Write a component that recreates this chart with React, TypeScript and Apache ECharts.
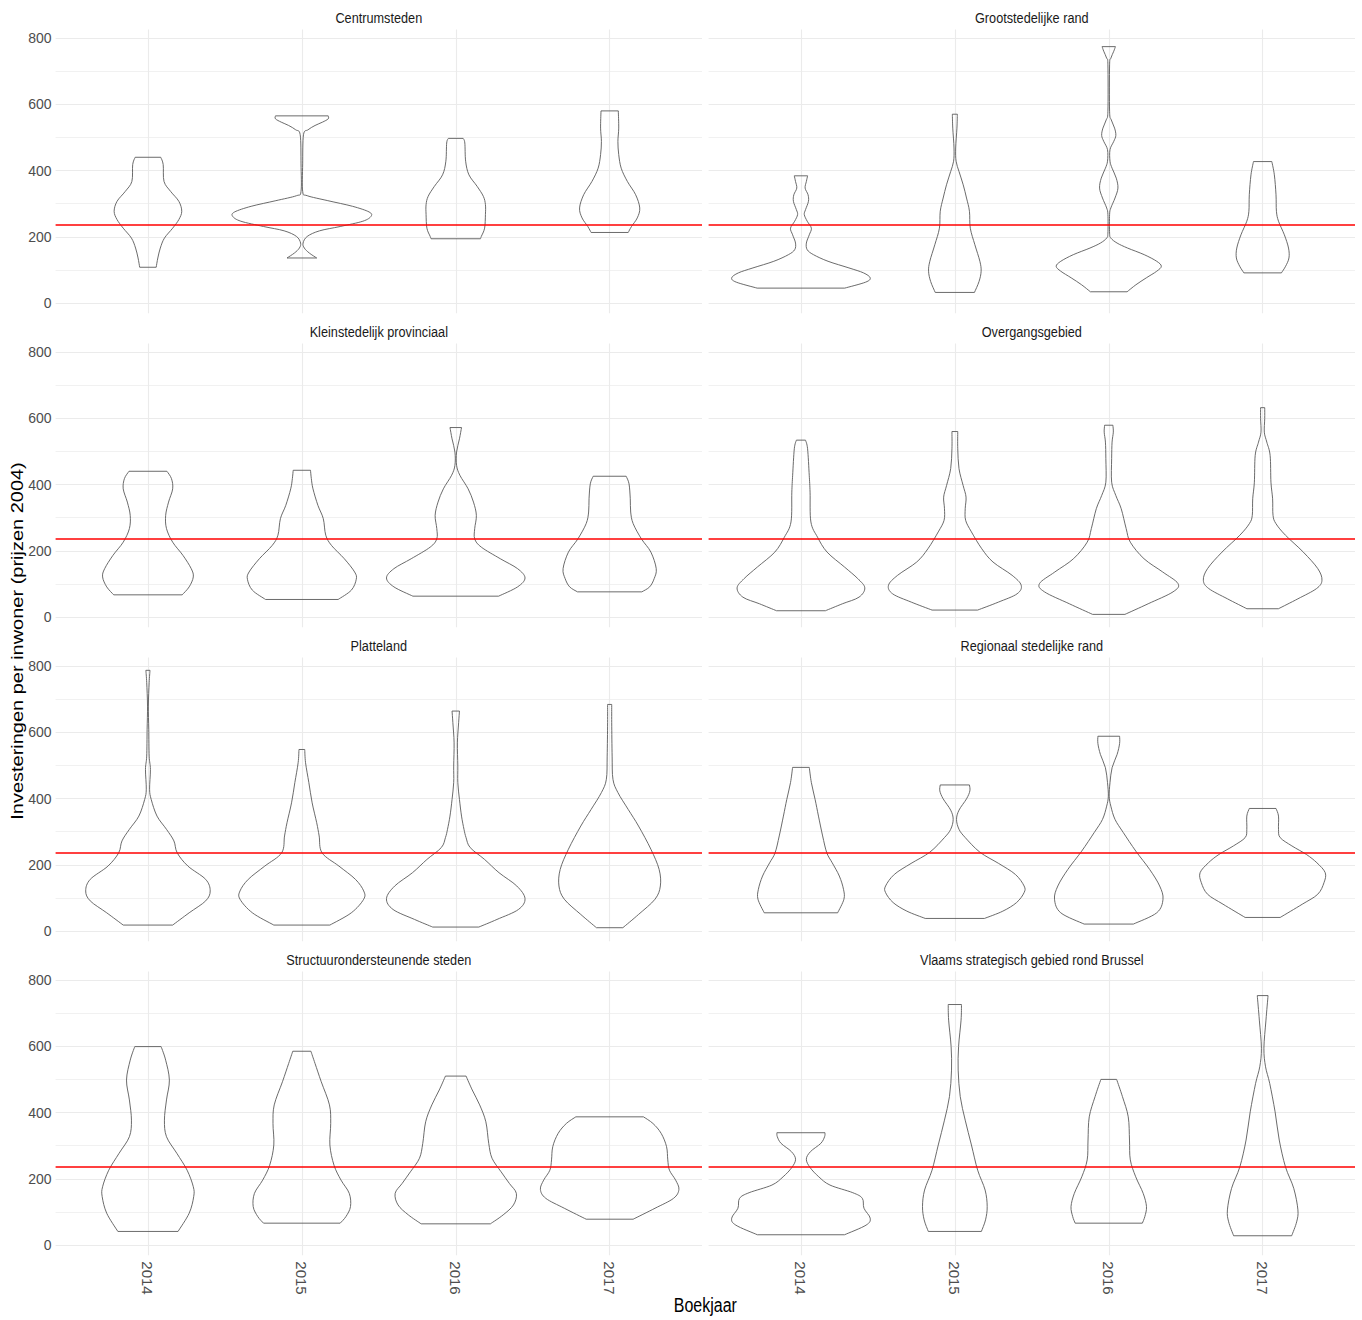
import React, { useEffect, useRef } from "react";
import * as echarts from "echarts";

// ---------- data ----------
const YEARS = ["2014", "2015", "2016", "2017"];
const REGIONS = [
  "Centrumsteden",
  "Grootstedelijke rand",
  "Kleinstedelijk provinciaal",
  "Overgangsgebied",
  "Platteland",
  "Regionaal stedelijke rand",
  "Structuurondersteunende steden",
  "Vlaams strategisch gebied rond Brussel",
];
const REFERENCE_VALUE = 236;

// violin outlines per region: one profile per year, [value, relative density] from top to bottom
const centrumsteden = [
  [[440,31],[418,37],[367,39],[337,55],[307,75],[277,82],[252,75],[226,60],[196,40],[166,30],[136,24],[108,20]],
  [[565,64],[556,64],[546,50],[536,32],[523,15],[508,4],[420,2],[337,2],[324,13],[309,63],[292,123],[275,163],[262,168],[247,148],[231,93],[218,43],[201,13],[181,3],[166,6],[151,18],[136,36]],
  [[497,18],[483,22],[428,24],[387,32],[352,52],[322,67],[297,72],[267,72],[226,70],[201,62],[194,60]],
  [[580,21],[528,22],[488,20],[448,22],[407,28],[367,43],[327,63],[287,73],[257,67],[231,53],[213,45]],
];
const grootstedelijkeRand = [
  [[384,16],[367,13],[347,10],[327,17],[307,18],[282,11],[267,8],[247,15],[226,25],[206,20],[181,13],[161,15],[146,30],[126,65],[106,115],[91,150],[76,166],[63,155],[45,105]],
  [[570,6],[528,5],[468,2],[428,3],[397,10],[357,20],[317,28],[277,35],[226,37],[176,48],[126,60],[96,63],[65,58],[32,47]],
  [[774,16],[760,12],[739,5],[719,2],[579,2],[553,6],[528,14],[506,17],[488,12],[463,3],[428,3],[407,8],[377,18],[347,22],[317,15],[287,5],[267,2],[211,2],[196,5],[181,20],[166,45],[146,85],[126,115],[111,126],[96,115],[76,90],[55,65],[34,44]],
  [[427,22],[387,28],[327,32],[277,33],[247,38],[206,52],[166,62],[136,63],[111,55],[91,45]],
];
const kleinstedelijkProvinciaal = [
  [[440,46],[418,57],[387,60],[347,50],[307,43],[267,45],[226,60],[186,85],[146,105],[121,110],[91,100],[67,83]],
  [[443,21],[418,23],[387,27],[337,39],[297,52],[247,58],[216,72],[176,103],[136,128],[114,132],[81,120],[53,88]],
  [[572,14],[538,9],[498,2],[458,2],[428,10],[387,30],[347,43],[307,50],[267,46],[236,46],[211,62],[176,108],[146,150],[118,168],[91,150],[63,104]],
  [[425,40],[402,47],[357,50],[317,51],[282,57],[236,77],[196,100],[146,113],[116,108],[91,97],[76,78]],
];
const overgangsgebied = [
  [[534,11],[508,16],[428,20],[377,22],[287,24],[241,40],[196,63],[151,105],[116,137],[88,154],[60,140],[40,100],[19,59]],
  [[560,7],[508,7],[448,10],[397,20],[362,27],[327,25],[292,26],[257,40],[206,65],[166,92],[126,138],[96,160],[70,150],[45,105],[21,55]],
  [[579,10],[558,11],[528,8],[478,7],[407,7],[367,17],[327,30],[267,42],[226,52],[176,85],[136,130],[101,167],[76,155],[40,95],[8,39]],
  [[632,5],[599,5],[558,4],[528,10],[488,18],[407,20],[357,24],[307,25],[282,32],[247,55],[196,98],[146,133],[111,143],[86,130],[55,85],[25,38]],
];
const platteland = [
  [[787,5],[750,3],[679,1],[609,2],[528,3],[488,6],[428,4],[397,8],[347,22],[307,45],[272,63],[236,71],[196,97],[156,140],[121,151],[91,140],[55,100],[18,60]],
  [[548,7],[508,9],[448,17],[387,25],[327,36],[287,42],[236,49],[196,90],[156,130],[121,150],[96,150],[55,120],[18,68]],
  [[664,9],[629,7],[568,4],[498,5],[448,5],[397,9],[347,14],[307,20],[282,25],[252,35],[216,70],[176,105],[136,148],[98,168],[65,152],[35,100],[12,56]],
  [[684,5],[629,5],[528,6],[458,8],[418,20],[367,45],[317,70],[247,100],[186,120],[136,123],[96,110],[50,70],[10,32]],
];
const regionaalStedelijkeRand = [
  [[494,20],[448,25],[397,34],[347,42],[287,52],[236,62],[206,75],[166,92],[126,102],[96,103],[55,88]],
  [[441,35],[423,36],[399,28],[365,10],[337,4],[307,10],[282,25],[238,60],[204,105],[171,145],[136,166],[116,166],[86,148],[60,115],[38,71]],
  [[588,26],[566,26],[533,20],[493,8],[448,3],[407,1],[377,5],[337,15],[297,35],[241,65],[186,98],[136,122],[96,130],[55,115],[21,59]],
  [[370,32],[347,38],[307,38],[282,42],[257,70],[231,105],[206,130],[176,150],[146,147],[111,132],[81,95],[41,42]],
];
const structuurondersteunendeSteden = [
  [[599,32],[558,43],[498,52],[438,45],[377,40],[327,45],[277,70],[226,95],[176,110],[146,111],[96,100],[41,73]],
  [[585,22],[548,32],[493,47],[423,67],[367,70],[302,68],[241,78],[196,95],[156,115],[116,118],[86,107],[66,93]],
  [[510,25],[468,40],[423,58],[372,73],[307,80],[262,88],[221,110],[186,130],[156,147],[121,140],[91,115],[64,84]],
  [[387,82],[367,105],[337,125],[297,138],[257,141],[226,145],[196,160],[168,168],[141,155],[111,110],[78,57]],
];
const vlaamsStrategischGebied = [
  [[339,58],[327,57],[307,48],[282,23],[259,13],[234,22],[206,43],[181,70],[158,125],[141,148],[111,152],[81,167],[60,157],[31,105]],
  [[726,16],[679,15],[599,9],[528,8],[448,13],[377,25],[302,40],[226,55],[166,73],[116,78],[76,74],[41,64]],
  [[500,19],[448,33],[387,47],[317,50],[257,52],[206,65],[156,83],[116,91],[86,87],[66,81]],
  [[753,13],[679,8],[594,3],[538,7],[488,17],[402,30],[317,40],[236,55],[171,75],[106,85],[70,82],[28,70]],
];

const PANELS: number[][][][] = [
  centrumsteden,
  grootstedelijkeRand,
  kleinstedelijkProvinciaal,
  overgangsgebied,
  platteland,
  regionaalStedelijkeRand,
  structuurondersteunendeSteden,
  vlaamsStrategischGebied,
];

// ---------- layout / style ----------
const W = 1362;
const H = 1320;
const SANS = "'Liberation Sans', Arial, sans-serif";
const NARROW_SCALE = 0.82;
const Y_MIN = -31;
const Y_MAX = 826;
const X_MIN = 0.4;
const X_MAX = 4.6;
const VIOLIN_WIDTH = 0.9;
const GRID_LEFT = [55.6, 708.6];
const GRID_W = 646.4;
const GRID_TOP0 = 29.4;
const ROW_STEP = 314;
const GRID_H = 283.9;
const GRID_COLOR = "#EBEBEB";

function catmull(pts: number[][]): string {
  let d = "";
  for (let i = 0; i < pts.length - 1; i++) {
    const p0 = pts[i - 1] || pts[i];
    const p1 = pts[i];
    const p2 = pts[i + 1];
    const p3 = pts[i + 2] || pts[i + 1];
    const c1x = p1[0] + (p2[0] - p0[0]) / 6;
    const c1y = p1[1] + (p2[1] - p0[1]) / 6;
    const c2x = p2[0] - (p3[0] - p1[0]) / 6;
    const c2y = p2[1] - (p3[1] - p1[1]) / 6;
    d += `C${c1x},${c1y} ${c2x},${c2y} ${p2[0]},${p2[1]} `;
  }
  return d;
}

function buildOption() {
  const grid: any[] = [];
  const xAxis: any[] = [];
  const yAxis: any[] = [];
  const series: any[] = [];
  const graphic: any[] = [];

  PANELS.forEach((profiles, i) => {
    const col = i % 2;
    const row = Math.floor(i / 2);
    const top = GRID_TOP0 + row * ROW_STEP;
    grid.push({ left: GRID_LEFT[col], top, width: GRID_W, height: GRID_H });

    xAxis.push({
      type: "value",
      gridIndex: i,
      min: X_MIN,
      max: X_MAX,
      minInterval: 1,
      maxInterval: 1,
      axisLine: { show: false },
      axisTick: { show: false },
      splitLine: { show: true, showMinLine: false, showMaxLine: false, lineStyle: { color: GRID_COLOR, width: 1.1 } },
      axisLabel: {
        show: row === 3,
        rotate: -90,
        margin: 6,
        fontFamily: SANS,
        fontSize: 15,
        color: "#4D4D4D",
        formatter: (v: number) => {
          const k = Math.round(v);
          return Math.abs(v - k) < 1e-6 && k >= 1 && k <= YEARS.length ? YEARS[k - 1] : "";
        },
      },
    });

    yAxis.push({
      type: "value",
      gridIndex: i,
      min: Y_MIN,
      max: Y_MAX,
      minInterval: 200,
      maxInterval: 200,
      axisLine: { show: false },
      axisTick: { show: false },
      minorTick: { show: false, splitNumber: 2 },
      minorSplitLine: { show: true, lineStyle: { color: GRID_COLOR, width: 0.7 } },
      splitLine: { show: true, showMinLine: false, showMaxLine: false, lineStyle: { color: GRID_COLOR, width: 1.1 } },
      axisLabel: {
        show: col === 0,
        margin: 4,
        fontFamily: SANS,
        fontSize: 14,
        color: "#4D4D4D",
        formatter: (v: number) => {
          const r = Math.round(v);
          if (Math.abs(v - r) > 1e-6 || r < 0 || r > 800 || r % 200 !== 0) return "";
          return String(Math.abs(r));
        },
      },
    });

    const panelMax = Math.max(...profiles.map((p) => Math.max(...p.map((q) => q[1]))));
    const scale = VIOLIN_WIDTH / 2 / panelMax;

    series.push({
      type: "custom",
      xAxisIndex: i,
      yAxisIndex: i,
      silent: true,
      z: 2,
      data: profiles.map((p, k) => [k + 1, p[0][0], p[p.length - 1][0]]),
      encode: { x: 0, y: [1, 2] },
      renderItem: (params: any, api: any) => {
        const prof = profiles[params.dataIndex];
        const xc = api.value(0);
        const right = prof.map((q) => api.coord([xc + q[1] * scale, q[0]]));
        const left = prof
          .slice()
          .reverse()
          .map((q) => api.coord([xc - q[1] * scale, q[0]]));
        let d = `M${right[0][0]},${right[0][1]} ` + catmull(right);
        d += `L${left[0][0]},${left[0][1]} ` + catmull(left) + "Z";
        return {
          type: "path",
          shape: { pathData: d },
          style: { fill: "none", stroke: "#5a5a5a", lineWidth: 0.9 },
        };
      },
    });

    series.push({
      type: "line",
      xAxisIndex: i,
      yAxisIndex: i,
      data: [],
      silent: true,
      z: 5,
      markLine: {
        silent: true,
        symbol: ["none", "none"],
        label: { show: false },
        lineStyle: { color: "#FF0000", width: 1.5, type: "solid" },
        data: [{ yAxis: REFERENCE_VALUE }],
      },
    });

    graphic.push({
      type: "text",
      x: GRID_LEFT[col] + GRID_W / 2,
      y: top - 12,
      scaleX: NARROW_SCALE,
      style: {
        text: REGIONS[i],
        align: "center",
        verticalAlign: "middle",
        textAlign: "center",
        textVerticalAlign: "middle",
        font: `15.5px ${SANS}`,
        fill: "#1A1A1A",
      },
    });
  });

  graphic.push({
    type: "text",
    x: 17.5,
    y: 641,
    rotation: Math.PI / 2,
    scaleY: NARROW_SCALE,
    style: {
      text: "Investeringen per inwoner (prijzen 2004)",
      align: "center",
      verticalAlign: "middle",
      textAlign: "center",
      textVerticalAlign: "middle",
      font: `20px ${SANS}`,
      fill: "#000000",
    },
  });
  graphic.push({
    type: "text",
    x: (GRID_LEFT[0] + GRID_LEFT[1] + GRID_W) / 2,
    y: 1305,
    scaleX: NARROW_SCALE,
    style: {
      text: "Boekjaar",
      align: "center",
      verticalAlign: "middle",
      textAlign: "center",
      textVerticalAlign: "middle",
      font: `19.5px ${SANS}`,
      fill: "#000000",
    },
  });

  return {
    animation: false,
    backgroundColor: "#FFFFFF",
    textStyle: { fontFamily: SANS },
    grid,
    xAxis,
    yAxis,
    series,
    graphic,
  };
}

export default function App() {
  const ref = useRef<HTMLDivElement>(null);
  useEffect(() => {
    if (!ref.current) return;
    const chart = echarts.init(ref.current, undefined, { renderer: "svg" });
    chart.setOption(buildOption() as any);
    return () => chart.dispose();
  }, []);
  return (
    <div
      ref={ref}
      style={{ position: "absolute", left: 0, top: 0, width: W, height: H, background: "#fff" }}
    />
  );
}
